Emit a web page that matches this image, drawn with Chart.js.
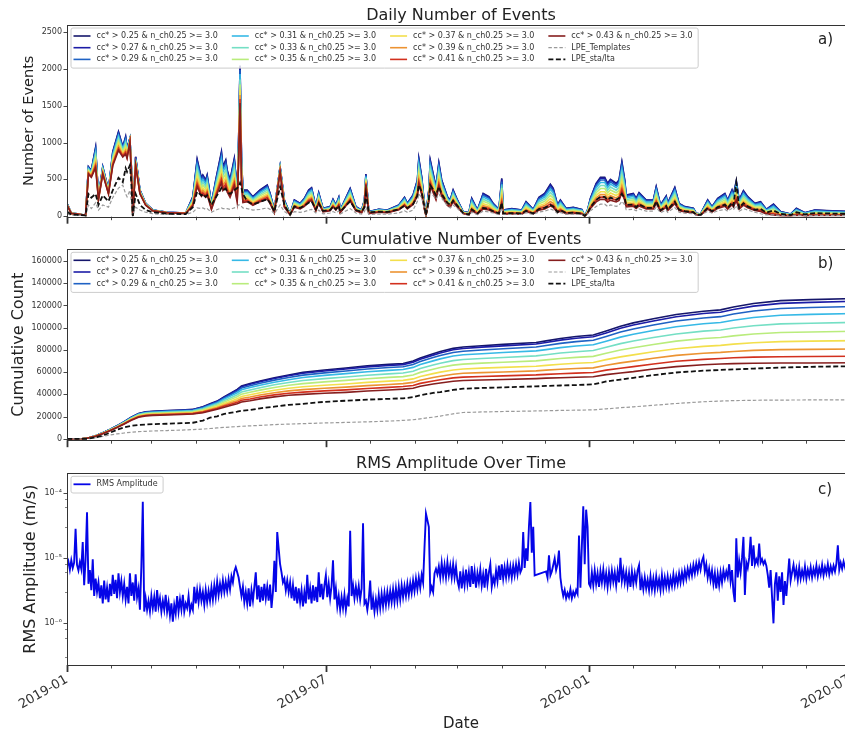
<!DOCTYPE html>
<html>
<head>
<meta charset="utf-8">
<title>Event counts and RMS amplitude</title>
<script src="https://cdn.jsdelivr.net/npm/chart.js@4.4.1/dist/chart.umd.min.js"></script>
<style>
  html, body { margin: 0; padding: 0; background: #fff; overflow: hidden; }
  body { width: 845px; height: 733px; position: relative; }
  canvas { position: absolute; left: 0; }
</style>
</head>
<body>
<canvas id="daily" width="880" height="232" style="top:0px"></canvas>
<canvas id="cumulative" width="880" height="218" style="top:232px"></canvas>
<canvas id="rms" width="880" height="283" style="top:450px"></canvas>
<script>
const FONT = '"DejaVu Sans", sans-serif';
const INK = '#222';

// x axis: days since 2019-01-01
const monthStarts = [0, 31, 59, 90, 120, 151, 181, 212, 243, 273, 304, 334, 365, 396, 425, 456, 486, 517, 547];
const majorDays = [0, 181, 365, 547];
const majorLabels = ['2019-01', '2019-07', '2020-01', '2020-07'];
const dayMax = 551;

// y ticks
const dailyTicks = [0, 500, 1000, 1500, 2000, 2500];
const cumTicks = [0, 20000, 40000, 60000, 80000, 100000, 120000, 140000, 160000];
const rmsDecades = [1e-6, 1e-5, 1e-4];
const rmsDecadeLabels = ['10⁻⁶', '10⁻⁵', '10⁻⁴'];

// detection thresholds and their line colours
const thresholds = ['0.25', '0.27', '0.29', '0.31', '0.33', '0.35', '0.37', '0.39', '0.41', '0.43'];
const seriesColors = ['#15166b', '#1c1ca6', '#1f62c4', '#36b9e6', '#74dfc4', '#b9ec7c', '#f3df4c', '#ec9332', '#d2301e', '#861e1e'];

// ---------- daily counts ----------
const dailyDays = [0,3,7,13,15,17,20,22,25,29,32,36,39,41,42,44,45,46,48,51,55,60,70,83,
  88,91,94,95,97,98,101,104,108,109,111,112,114,117,119,120,121,122,123,
  126,130,135,140,142,145,149,152,156,159,163,166,169,171,174,176,179,184,186,188,190,191,198,202,206,208,209,211,218,224,232,236,238,242,
  245,246,248,250,251,253,254,256,258,260,262,266,268,270,273,277,
  281,283,287,291,295,298,302,304,305,311,318,321,326,330,334,338,340,343,345,349,354,360,
  362,364,366,370,373,376,378,380,384,386,388,390,391,396,398,400,405,410,412,415,419,420,425,428,432,438,440,443,448,451,455,460,462,465,466,468,470,473,476,481,
  485,489,494,499,506,510,516,523,531,543,551];

const daily025 = [172,40,30,10,670,620,934,263,671,354,875,1148,943,1080,921,1057,671,5,807,354,172,82,50,40,
  263,771,513,558,490,558,172,490,875,671,762,626,490,785,354,1034,2050,807,354,
  354,263,354,422,308,82,671,218,27,218,172,240,354,386,127,318,104,127,227,150,254,80,376,127,80,218,571,59,91,80,150,254,172,286,
  490,785,535,150,14,354,762,580,400,726,490,263,218,354,218,59,
  45,240,82,308,263,172,91,513,82,100,82,195,91,254,308,431,376,150,218,104,118,90,
  0,82,240,445,526,526,445,499,445,490,739,490,286,308,240,318,218,218,400,150,272,172,390,172,127,104,36,27,218,127,240,308,218,354,286,481,218,345,263,172,
  195,91,163,59,27,104,45,82,73,64,60];
const daily027 = [171,40,30,10,666,616,922,261,667,352,867,1138,937,1070,915,1055,667,5,802,352,171,82,50,40,
  257,755,502,546,480,546,168,480,857,657,746,613,480,769,347,1021,2027,793,347,
  347,258,347,414,302,80,668,214,26,214,169,235,347,379,125,312,102,125,223,147,249,78,369,125,78,214,565,58,89,78,147,249,169,281,
  481,770,525,147,14,347,748,569,392,712,481,258,214,347,214,58,
  44,233,80,299,255,167,88,498,80,97,80,189,88,246,299,418,365,146,211,101,114,87,
  0,80,234,434,513,513,434,487,434,478,721,478,279,300,234,310,213,213,390,146,265,168,380,168,124,101,35,26,213,124,234,300,213,345,279,469,213,336,256,168,
  189,88,157,57,26,100,43,79,70,62,58];
const daily029 = [169,39,29,10,657,608,899,258,658,347,851,1117,925,1051,904,1051,658,5,792,347,169,80,49,39,
  247,725,482,525,461,525,162,461,823,631,716,588,461,738,333,996,1986,767,333,
  334,248,334,398,291,77,663,206,25,206,162,227,334,364,120,300,98,120,214,142,240,76,355,120,76,206,553,56,86,76,142,240,162,270,
  463,741,505,142,13,334,719,548,378,685,463,248,206,334,206,56,
  41,219,75,282,240,157,83,469,75,91,75,178,83,232,282,394,344,137,199,95,108,82,
  0,76,223,413,489,489,413,464,413,455,687,455,266,286,223,295,203,203,372,139,253,160,362,160,118,97,33,25,203,118,223,286,203,329,266,447,203,321,244,160,
  178,83,144,52,24,92,40,73,65,57,53];
const daily031 = [166,39,29,10,647,598,869,254,648,342,830,1089,910,1025,889,1044,648,5,779,342,166,79,48,39,
  234,685,456,496,435,496,153,435,777,596,677,556,435,697,314,962,1931,732,314,
  317,235,317,378,276,73,656,195,24,195,154,215,317,345,114,285,93,114,203,134,227,72,337,114,72,195,538,53,81,72,134,227,154,256,
  439,703,479,134,13,317,682,519,358,650,439,235,195,317,195,53,
  38,201,69,258,221,144,76,430,69,84,69,164,76,213,258,362,315,126,183,87,99,76,
  0,71,208,386,456,456,386,433,386,425,641,425,248,267,208,276,189,189,347,130,236,149,338,149,110,90,31,23,189,110,208,267,189,307,248,417,189,299,228,149,
  164,76,128,46,21,82,35,65,58,50,47];
const daily033 = [162,38,28,9,632,585,829,248,633,334,803,1054,890,991,869,1037,633,5,762,334,162,77,47,38,
  216,633,421,458,402,458,141,402,718,551,626,514,402,644,291,918,1859,687,291,
  295,219,295,352,257,68,646,182,22,182,143,200,295,322,106,265,87,106,189,125,212,67,313,106,67,182,518,49,76,67,125,212,143,238,
  408,654,446,125,12,295,635,483,333,605,408,219,182,295,182,49,
  33,178,61,229,195,128,68,381,61,74,61,145,68,189,229,320,279,111,162,77,88,67,
  0,65,189,351,414,414,351,393,351,386,582,386,225,243,189,251,172,172,315,118,214,136,307,136,100,82,28,21,172,100,189,243,172,279,225,379,172,272,207,136,
  145,68,108,39,18,69,30,54,48,42,40];
const daily035 = [159,37,28,9,619,573,791,243,620,327,777,1019,871,959,851,1031,620,5,746,327,159,76,46,37,
  199,582,387,421,370,421,130,370,661,507,575,473,370,593,267,876,1789,642,267,
  273,203,273,325,237,63,637,168,21,168,132,185,273,297,98,245,80,98,175,116,196,62,290,98,62,168,498,45,70,62,116,196,132,220,
  377,604,412,116,11,273,587,447,308,559,377,203,168,273,168,45,
  29,156,53,200,170,111,59,332,53,65,53,126,59,165,200,279,244,97,141,67,76,58,
  0,58,170,316,373,373,316,354,316,347,524,347,203,218,170,225,155,155,284,106,193,122,277,122,90,74,26,19,155,90,170,218,155,251,203,341,155,245,186,122,
  126,59,87,32,14,56,24,44,39,34,32];
const daily037 = [155,36,27,9,604,559,750,237,605,319,749,983,851,924,831,1022,605,4,728,319,155,74,45,36,
  180,528,351,382,336,382,118,336,599,460,522,429,336,538,242,830,1714,596,242,
  250,185,250,298,217,58,627,154,19,154,121,169,250,272,90,224,73,90,160,106,179,56,265,90,56,154,477,42,64,56,106,179,121,202,
  345,553,377,106,10,250,537,409,282,512,345,185,154,250,154,42,
  25,131,45,168,144,94,50,281,45,55,45,107,50,139,168,236,206,82,119,57,65,49,
  0,51,150,279,329,329,279,312,279,307,463,307,179,193,150,199,136,136,250,94,170,108,244,108,80,65,23,17,136,80,150,193,136,222,179,301,136,216,165,108,
  107,50,66,24,11,42,18,33,29,26,24];
const daily039 = [152,35,26,9,591,547,715,232,592,312,724,949,832,893,812,1016,592,4,712,312,152,72,44,35,
  164,480,320,348,305,348,107,305,545,418,475,390,305,489,221,791,1648,554,221,
  229,170,229,273,199,53,619,141,17,141,111,155,229,250,82,206,67,82,147,97,164,52,243,82,52,141,459,38,59,52,97,164,111,185,
  317,508,346,97,9,229,493,375,259,470,317,170,141,229,141,38,
  21,110,38,141,120,79,42,235,38,46,38,89,42,116,141,197,172,69,100,48,54,41,
  0,45,133,246,291,291,246,276,246,271,409,271,158,170,133,176,121,121,221,83,150,95,216,95,70,58,20,15,121,70,133,170,121,196,158,266,121,191,145,95,
  89,42,47,17,8,30,13,23,21,18,17];
const daily041 = [149,35,26,9,580,536,683,227,580,306,702,921,816,866,797,1009,580,4,698,306,149,71,43,35,
  150,439,292,318,279,318,98,279,498,382,434,356,279,447,201,756,1591,517,201,
  211,157,211,252,184,49,611,130,16,130,103,143,211,230,76,190,62,76,135,89,151,48,224,76,48,130,443,35,54,48,89,151,103,170,
  292,468,319,89,8,211,454,346,238,433,292,157,130,211,130,35,
  17,91,31,117,100,65,35,195,31,38,31,74,35,97,117,164,143,57,83,40,45,34,
  0,40,117,217,257,257,217,244,217,239,361,239,140,150,117,155,106,106,195,73,133,84,190,84,62,51,18,13,106,62,117,150,106,173,140,235,106,168,128,84,
  74,35,30,11,5,19,8,15,13,12,11];
const daily043 = [146,34,26,9,570,527,654,224,570,301,683,895,802,842,783,1004,570,4,686,301,146,70,43,34,
  137,401,267,290,255,290,89,255,455,349,396,326,255,408,184,724,1538,484,184,
  195,145,195,232,169,45,604,120,15,120,95,132,195,212,70,175,57,70,125,83,140,44,207,70,44,120,428,32,50,44,83,140,95,157,
  270,432,294,83,8,195,419,319,220,399,270,145,120,195,120,32,
  14,74,25,95,82,53,28,159,25,31,25,60,28,79,95,134,117,47,68,32,37,28,
  0,35,103,191,226,226,191,215,191,211,318,211,123,132,103,137,94,94,172,65,117,74,168,74,55,45,15,12,94,55,103,132,94,152,123,207,94,148,113,74,
  60,28,15,5,2,9,4,7,7,6,5];
const dailyTemplates = [30,10,10,5,150,100,180,80,150,120,250,380,420,300,260,350,200,0,120,80,50,30,20,20,
  50,110,100,110,90,100,50,80,110,100,100,100,90,110,130,150,150,130,110,
  100,80,90,110,90,30,150,60,10,60,50,60,80,90,40,80,30,40,60,40,70,25,100,40,25,60,120,20,25,25,40,70,50,80,
  200,300,250,90,5,180,320,280,230,300,240,140,110,150,100,30,
  10,50,20,65,55,40,20,110,20,22,20,45,20,55,65,95,80,33,48,23,26,20,
  0,25,70,130,160,160,130,150,130,145,200,150,85,90,70,95,65,65,120,45,80,50,115,50,38,30,10,8,65,38,70,90,65,105,85,140,65,100,80,50,
  30,15,15,5,2,9,4,7,7,6,5];
const dailyStaLta = [60,20,15,5,300,250,300,150,280,200,350,520,460,650,600,690,450,0,300,150,80,50,30,25,
  120,330,280,300,260,280,150,250,380,350,370,330,300,350,380,400,450,380,300,
  200,160,190,230,180,60,400,150,20,130,110,140,180,200,90,170,70,80,130,90,140,60,200,80,60,120,300,50,60,55,90,140,110,160,
  280,420,330,120,10,220,420,360,280,400,300,180,150,210,140,40,
  20,90,35,110,95,65,35,180,35,40,35,70,35,95,110,150,130,55,80,40,45,35,
  0,40,120,220,260,260,220,250,220,245,300,240,150,155,120,160,110,110,200,75,135,85,195,85,65,52,18,14,110,65,120,155,110,180,145,450,110,175,130,85,
  95,45,75,28,13,50,22,39,35,30,29];

// ---------- cumulative counts ----------
const cumDays = [0,10,14,20,25,30,35,40,45,50,55,60,70,80,88,95,100,105,110,115,119,122,128,135,145,155,165,180,195,210,
  225,235,242,247,256,261,270,277,290,305,328,335,345,356,368,377,387,396,410,426,445,457,466,480,499,520,551];
const cum025 = [0,100,600,2800,5500,8500,11800,15500,19500,22800,24300,24800,25400,25900,26500,28800,31500,34000,38000,41500,
  44500,47500,49800,52000,55000,57500,59800,62000,63800,65700,67000,67800,70000,72800,76500,78500,81400,82600,83800,85000,
  86700,88100,90300,92000,93400,97000,101300,104300,108000,111800,114800,116000,118600,121700,124300,125200,126300];
const cum027 = [0,100,596,2780,5470,8450,11730,15410,19380,22660,24150,24640,25230,25730,26320,28570,31230,33680,37590,41010,
  43940,46890,49130,51310,54260,56710,58950,61100,62850,64720,66010,66810,68950,71700,75330,77290,80130,81310,82480,83640,
  85300,86660,88780,90430,91780,95310,99490,102420,106060,109790,112730,113910,116410,119390,121890,122750,123810];
const cum029 = [0,100,588,2750,5400,8350,11600,15240,19160,22390,23850,24340,24910,25400,25980,28140,30700,33080,36810,40090,
  42880,45710,47860,50000,52850,55210,57330,59380,61050,62860,64130,64910,66940,69610,73100,74980,77700,78840,79950,81050,
  82640,83910,85890,87430,88700,92100,96050,98830,102350,105950,108780,109910,112240,114990,117290,118090,119060];
const cum031 = [0,100,577,2710,5310,8220,11430,15010,18870,22030,23460,23940,24490,24970,25520,27570,30010,32280,35790,38870,
  41470,44170,46190,48270,50990,53240,55190,57110,58670,60410,61640,62420,64290,66860,70160,71930,74500,75590,76620,77640,
  79130,80290,82080,83470,84640,87870,91510,94100,97470,100900,103570,104650,106740,109190,111230,111940,112810];
const cum033 = [0,100,563,2650,5200,8050,11200,14720,18500,21570,22960,23420,23950,24410,24940,26830,29120,31250,34470,37300,
  39660,42180,44030,46050,48600,50690,52430,54190,55620,57260,58440,59210,60890,63310,66380,68010,70390,71400,72340,73250,
  74610,75640,77170,78390,79410,82420,85680,88010,91190,94390,96870,97880,99670,101720,103430,104030,104760];
const cum035 = [0,100,549,2600,5090,7890,10980,14430,18120,21120,22460,22910,23410,23860,24360,26100,28240,30230,33160,35740,
  37870,40210,41900,43840,46230,48170,49700,51290,52580,54120,55270,56020,57510,59800,62630,64120,66300,67250,68090,68880,
  70130,71020,72300,73330,74220,77010,79880,81960,84950,87930,90220,91160,92640,94310,95690,96180,96770];
const cum037 = [0,100,534,2540,4980,7710,10750,14120,17730,20640,21940,22370,22840,23280,23750,25320,27300,29150,31770,34090,
  35970,38120,39630,41500,43720,45500,46810,48220,49370,50810,51910,52650,53930,56070,58660,60000,61980,62850,63600,64270,
  65380,66120,67140,67990,68730,71290,73750,75570,78350,81100,83180,84050,85210,86470,87500,87870,88320];
const cum039 = [0,100,522,2490,4870,7560,10540,13850,17380,20210,21470,21900,22340,22760,23200,24640,26480,28190,30540,32630,
  34300,36270,37630,39440,41500,43130,44260,45520,46530,47880,48950,49670,50770,52780,55150,56360,58160,58970,59620,60190,
  61190,61800,62590,63270,63880,66230,68330,69920,72520,75060,76960,77770,78640,79550,80260,80530,80850];
const cum041 = [0,100,510,2440,4780,7420,10360,13610,17080,19840,21070,21480,21900,22310,22730,24040,25750,27360,29470,31350,
  32830,34660,35880,37630,39550,41070,42020,43140,44040,45320,46350,47060,48000,49900,52070,53180,54820,55570,56140,56620,
  57520,58020,58600,59130,59640,61800,63580,64970,67410,69770,71520,72270,72890,73480,73920,74100,74310];
const cum043 = [0,100,500,2400,4700,7300,10200,13400,16800,19500,20700,21100,21500,21900,22300,23500,25100,26600,28500,30200,
  31500,33200,34300,36000,37800,39200,40000,41000,41800,43000,44000,44700,45500,47300,49300,50300,51800,52500,53000,53400,
  54200,54600,55000,55400,55800,57800,59300,60500,62800,65000,66600,67300,67700,68000,68200,68300,68400];
const cumTemplates = [0,0,200,1000,2200,3500,4500,5300,6000,6500,6800,7100,7500,7900,8300,8800,9300,9800,10300,10700,
  11000,11300,11700,12100,12800,13300,13700,14300,14800,15300,16000,16600,17200,18000,19500,20500,22500,23700,24200,24600,
  25100,25300,25600,25800,26100,27000,28000,28800,30200,31800,33400,34000,34400,34700,34900,35000,35100];
const cumStaLta = [0,0,100,1200,3000,5500,8200,10300,11700,12500,12900,13200,13600,14100,14500,16500,19000,20300,22500,23600,
  24400,25200,26000,27500,29000,30600,31500,33300,34300,35300,36000,36500,37500,39300,41300,42100,44000,45100,45800,46300,
  47200,47600,48000,48400,49000,51600,53300,54900,57300,59700,61300,62000,62500,63200,64100,64800,65400];

// ---------- daily RMS amplitude, micrometres per second, one value per day from 2019-01-01 ----------
const rmsMicro = [
  7.5,8.8,6.6,9.2,7.0,8.5,28,7.8,6.4,8.6,
  6.8,17.5,3.8,9.5,50,4.0,6.5,3.2,9.5,2.6,
  4.8,3.0,4.2,2.4,3.8,2.0,4.5,2.3,3.5,2.1,
  4.0,2.6,5.5,2.8,4.6,2.4,5.8,3.0,4.4,2.6,
  4.0,2.3,3.6,2.0,5.8,2.6,4.2,2.2,5.6,2.5,
  3.4,1.6,7.5,73,1.5,2.4,1.6,2.2,1.5,2.6,
  1.7,2.5,1.5,3.2,1.8,2.4,1.5,2.2,1.6,2.7,
  1.5,2.1,1.3,2.0,1.05,1.9,1.4,2.6,1.5,2.3,
  1.6,2.7,1.5,2.0,1.7,2.6,1.5,1.9,1.6,3.6,
  2.0,3.2,2.1,3.3,2.2,3.0,1.9,3.2,2.1,3.1,
  2.2,3.5,2.3,3.8,2.5,4.3,2.7,4.0,2.9,4.5,
  3.0,4.3,3.1,4.7,3.3,5.2,4.2,6.2,7.2,6.0,
  5.0,3.6,2.6,3.6,2.1,3.0,2.0,3.4,1.8,3.2,
  2.2,3.6,6.0,2.3,3.8,2.1,3.6,2.2,4.0,2.4,
  3.6,2.2,3.9,1.7,3.0,9.0,3.0,25,14,8.0,
  6.0,4.2,4.8,3.2,4.5,3.0,4.2,2.4,3.8,2.2,
  3.6,2.0,3.4,2.1,3.2,1.8,3.0,2.0,5.5,2.3,
  3.4,2.0,3.8,2.2,3.6,2.1,6.0,2.5,4.0,2.3,
  3.8,5.4,2.5,4.0,2.4,3.7,9.2,2.3,3.4,1.8,
  2.6,1.6,2.5,1.7,2.7,1.6,2.4,1.8,26,2.6,
  3.8,2.4,3.6,2.5,3.7,2.3,3.4,34,2.0,2.2,
  1.6,2.3,4.5,1.6,2.4,1.5,2.3,1.6,2.7,1.7,
  2.8,1.8,2.9,1.9,3.0,2.0,3.1,2.1,3.3,2.1,
  3.4,2.2,3.6,2.3,3.8,2.5,3.7,2.6,4.0,2.7,
  4.1,2.9,4.5,3.1,4.8,3.3,5.0,3.5,5.5,4.2,
  15,48,38,30,3.0,3.6,3.0,5.8,6.8,5.6,
  7.4,5.0,8.4,5.2,7.8,5.0,8.6,5.4,7.6,5.0,
  8.0,5.0,7.4,4.5,3.6,6.2,3.4,5.8,3.8,6.6,
  4.0,6.0,3.6,7.5,4.0,6.2,3.5,5.8,4.2,6.6,
  3.8,5.6,3.5,6.8,4.0,6.0,8.0,3.6,5.0,4.0,
  6.4,4.4,7.6,4.6,8.0,4.8,7.2,5.0,7.8,5.2,
  7.4,5.0,7.6,5.4,8.0,5.6,8.4,6.0,6.8,25,
  7.0,14,9.0,30,72,12,30,5.4,null,null,
  null,null,null,null,null,6.2,5.0,11,5.4,6.2,
  7.8,9.8,6.5,8.0,13,5.0,3.4,2.6,3.2,2.4,
  2.9,2.5,3.3,2.4,3.0,2.6,3.2,2.8,22,3.5,
  15,62,8.0,55,30,4.0,3.6,6.0,3.8,6.4,
  4.0,5.8,3.6,6.2,4.2,6.6,4.0,5.8,3.6,6.0,
  4.0,6.4,4.3,6.0,3.8,6.2,4.2,10,4.5,6.4,
  4.2,6.0,3.8,5.8,3.6,6.2,4.0,5.8,4.2,6.4,
  7.7,3.2,4.8,3.3,5.0,3.4,4.6,3.2,5.2,3.3,
  4.8,3.2,5.2,3.5,4.7,3.2,5.4,3.4,5.0,3.6,
  5.2,3.5,4.9,3.7,5.6,3.8,5.3,4.0,5.8,4.2,
  6.0,4.4,6.4,4.8,6.8,5.2,7.2,5.4,7.8,5.8,
  8.2,6.2,8.6,6.6,9.0,10.4,6.2,8.0,5.0,6.8,
  4.6,6.4,4.0,5.8,3.4,5.6,3.8,6.0,4.2,6.4,
  4.8,6.2,5.0,8.0,4.4,6.5,3.0,2.1,20,5.0,
  9.0,6.0,10,21,2.7,8.5,7.0,10,21,7.5,
  15.6,8.0,9.5,8.2,16.6,8.5,9.6,8.0,9.0,7.6,
  5.5,3.5,6.5,2.5,0.99,4.0,6.0,2.2,5.2,3.0,
  6.0,1.9,4.4,2.6,5.0,9.8,4.5,6.0,7.8,5.2,
  6.8,4.6,7.2,4.8,6.4,5.0,7.4,4.8,6.6,5.2,
  7.2,5.0,6.8,5.4,7.6,5.2,7.0,5.6,7.8,5.4,
  7.2,5.8,8.0,5.6,7.4,6.0,7.6,6.2,8.2,15.6,
  6.6,8.4,6.8,8.8,7.2,8.6,7.4,9.0,7.6,8.8,7.8,9.0
];

const dailyCC = [daily025, daily027, daily029, daily031, daily033, daily035, daily037, daily039, daily041, daily043];
const cumCC = [cum025, cum027, cum029, cum031, cum033, cum035, cum037, cum039, cum041, cum043];

function lineSet(label, days, values, color, width, dash, order) {
  return {
    label,
    data: days.map((d, i) => ({ x: d, y: values[i] })),
    borderColor: color,
    borderWidth: width,
    borderDash: dash,
    pointRadius: 0,
    tension: 0,
    fill: false,
    order
  };
}

// ten threshold curves, then the two LPE reference curves drawn on top
function eventSets(days, ccArrays, templates, staLta) {
  const sets = ccArrays.map((vals, i) =>
    lineSet(`cc* > ${thresholds[i]} & n_ch0.25 >= 3.0`, days, vals, seriesColors[i], 1.6, [], -i));
  sets.push(lineSet('LPE_Templates', days, templates, '#9a9a9a', 1.2, [3.5, 2], -10));
  sets.push(lineSet('LPE_sta/lta', days, staLta, '#111111', 1.8, [5, 2.5], -11));
  return sets;
}

function drawLegend(chart, rows) {
  const { ctx, chartArea: a } = chart;
  const items = chart.data.datasets;
  const cols = Math.ceil(items.length / rows);
  ctx.font = `8px ${FONT}`;
  const colW = [];
  for (let c = 0; c < cols; c++) {
    let w = 0;
    for (let r = 0; r < rows; r++) {
      const it = items[c * rows + r];
      if (it) w = Math.max(w, ctx.measureText(it.label).width);
    }
    colW.push(w);
  }
  const boxX = a.left + 3.5, boxY = a.top + 2.5;
  const boxW = 5 + colW.reduce((s, w) => s + 23 + w, 0) + 14 * (cols - 1) + 3;
  const boxH = rows * 11.7 + 5;
  ctx.fillStyle = 'rgba(255,255,255,0.8)';
  ctx.strokeStyle = '#cccccc';
  ctx.lineWidth = 1;
  ctx.setLineDash([]);
  ctx.beginPath();
  ctx.roundRect(boxX + 0.5, boxY + 0.5, boxW, boxH, 2);
  ctx.fill();
  ctx.stroke();
  let x = boxX + 3;
  for (let c = 0; c < cols; c++) {
    for (let r = 0; r < rows; r++) {
      const it = items[c * rows + r];
      if (!it) continue;
      const y = boxY + 8.5 + r * 11.7;
      ctx.strokeStyle = it.borderColor;
      ctx.lineWidth = Math.min(it.borderWidth, 1.8);
      ctx.setLineDash(it.borderDash || []);
      ctx.beginPath();
      ctx.moveTo(x, y);
      ctx.lineTo(x + 17, y);
      ctx.stroke();
      ctx.setLineDash([]);
      ctx.fillStyle = '#333';
      ctx.textAlign = 'left';
      ctx.textBaseline = 'middle';
      ctx.fillText(it.label, x + 23, y);
    }
    x += 23 + colW[c] + 14;
  }
}

// axes box, tick marks, panel title, panel letter and legend
const decor = {
  id: 'decor',
  afterDraw(chart, args, o) {
    const { ctx, chartArea: a } = chart;
    const xs = chart.scales.x, ys = chart.scales.y;
    ctx.save();
    ctx.strokeStyle = '#333';
    ctx.setLineDash([]);
    xs.ticks.forEach(t => {
      const px = Math.round(xs.getPixelForValue(t.value)) + 0.5;
      ctx.lineWidth = t.major ? 1.8 : 0.9;
      ctx.beginPath();
      ctx.moveTo(px, a.bottom);
      ctx.lineTo(px, a.bottom + (t.major ? 7 : 3.5));
      ctx.stroke();
    });
    ys.ticks.forEach(t => {
      const py = Math.round(ys.getPixelForValue(t.value)) + 0.5;
      if (py < a.top - 1 || py > a.bottom + 1) return;
      ctx.lineWidth = t.major ? 0.9 : 0.6;
      ctx.beginPath();
      ctx.moveTo(a.left - (t.major ? 3.5 : 2), py);
      ctx.lineTo(a.left, py);
      ctx.stroke();
    });
    ctx.lineWidth = 1;
    ctx.strokeRect(Math.round(a.left) + 0.5, Math.round(a.top) + 0.5,
      Math.round(a.right - a.left), Math.round(a.bottom - a.top));
    ctx.fillStyle = INK;
    ctx.font = `16px ${FONT}`;
    ctx.textAlign = 'center';
    ctx.textBaseline = 'middle';
    ctx.fillText(o.title, (a.left + a.right) / 2, a.top - 9.5);
    ctx.font = `15px ${FONT}`;
    ctx.textAlign = 'left';
    ctx.fillText(o.tag, 818, a.top + o.tagOffset);
    drawLegend(chart, o.legendRows);
    ctx.restore();
  }
};

function panel(id, datasets, cfg) {
  const xScale = {
    type: 'linear',
    min: 0,
    max: dayMax,
    afterBuildTicks: s => { s.ticks = monthStarts.map(d => ({ value: d, major: majorDays.includes(d) })); },
    grid: { display: false, drawTicks: false },
    border: { display: false },
    ticks: { display: false }
  };
  if (cfg.dates) {
    xScale.ticks = {
      display: true, autoSkip: false, minRotation: 30, maxRotation: 30, padding: 7,
      color: '#333', font: { family: FONT, size: 13 },
      callback: v => { const i = majorDays.indexOf(v); return i >= 0 ? majorLabels[i] : ''; }
    };
    xScale.title = { display: true, text: 'Date', color: INK, font: { family: FONT, size: 15 }, padding: { top: 0, bottom: 0 } };
    xScale.afterFit = s => { s.height = 68; };
  } else {
    xScale.afterFit = s => { s.height = 0; };
  }
  const yScale = {
    type: cfg.yType,
    min: cfg.yMin,
    max: cfg.yMax,
    afterBuildTicks: s => { s.ticks = cfg.yTicks.map(v => ({ value: v, major: cfg.isMajor(v) })); },
    afterFit: s => { s.width = 67; },
    grid: { display: false, drawTicks: false },
    border: { display: false },
    ticks: { color: '#333', padding: 5, font: { family: FONT, size: 8 }, callback: cfg.yLabel },
    title: { display: true, text: cfg.yTitle, color: INK, font: { family: FONT, size: cfg.yTitleSize },
      padding: { top: cfg.yTitlePad, bottom: 0 } }
  };
  return new Chart(document.getElementById(id), {
    type: 'line',
    data: { datasets },
    options: {
      responsive: false,
      animation: false,
      devicePixelRatio: 1,
      events: [],
      spanGaps: true,
      layout: { padding: cfg.padding },
      scales: { x: xScale, y: yScale },
      plugins: {
        legend: { display: false },
        tooltip: { enabled: false },
        decor: { title: cfg.title, tag: cfg.tag, tagOffset: cfg.tagOffset, legendRows: cfg.legendRows }
      }
    },
    plugins: [decor]
  });
}

panel('daily', eventSets(dailyDays, dailyCC, dailyTemplates, dailyStaLta), {
  title: 'Daily Number of Events', tag: 'a)', tagOffset: 15, legendRows: 3,
  yType: 'linear', yMin: -10, yMax: 2600, yTicks: dailyTicks, isMajor: () => true,
  yLabel: v => String(v), yTitle: 'Number of Events', yTitleSize: 14.5, yTitlePad: 20.8,
  padding: { left: 0, right: 25, top: 25, bottom: 15.3 }
});

panel('cumulative', eventSets(cumDays, cumCC, cumTemplates, cumStaLta), {
  title: 'Cumulative Number of Events', tag: 'b)', tagOffset: 15, legendRows: 3,
  yType: 'linear', yMin: -1200, yMax: 170500, yTicks: cumTicks, isMajor: () => true,
  yLabel: v => String(v), yTitle: 'Cumulative Count', yTitleSize: 16, yTitlePad: 9.5,
  padding: { left: 0, right: 25, top: 17.3, bottom: 8 }
});

const rmsTicks = [];
[1e-7, 1e-6, 1e-5, 1e-4].forEach(dec => {
  for (let m = 1; m <= 9; m++) {
    const v = m * dec;
    if (v >= 2.27e-7 && v <= 1.99e-4) rmsTicks.push(v);
  }
});

panel('rms', [{
  label: 'RMS Amplitude',
  data: rmsMicro.map((v, i) => ({ x: i, y: v === null ? null : v * 1e-6 })),
  borderColor: '#0505e8',
  borderWidth: 1.9,
  pointRadius: 0,
  tension: 0,
  fill: false
}], {
  title: 'RMS Amplitude Over Time', tag: 'c)', tagOffset: 17, legendRows: 1, dates: true,
  yType: 'logarithmic', yMin: 2.27e-7, yMax: 1.99e-4, yTicks: rmsTicks,
  isMajor: v => rmsDecades.some(d => Math.abs(v / d - 1) < 1e-9),
  yLabel: v => { const i = rmsDecades.findIndex(d => Math.abs(v / d - 1) < 1e-9); return i >= 0 ? rmsDecadeLabels[i] : ''; },
  yTitle: 'RMS Amplitude (m/s)', yTitleSize: 16, yTitlePad: 21,
  padding: { left: 0, right: 25, top: 23.3, bottom: 0 }
});
</script>
</body>
</html>
